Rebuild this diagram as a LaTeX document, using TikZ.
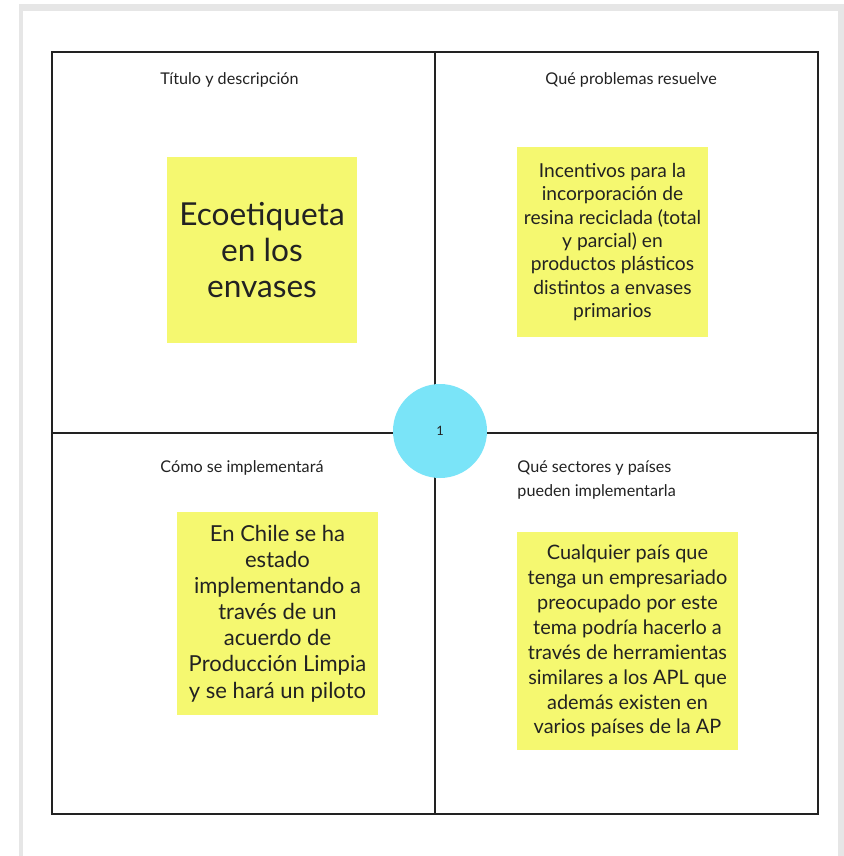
\documentclass[tikz,border=0pt]{standalone}
\usepackage{fontspec}
\setmainfont{Lato}
\usepackage{tikz}
\definecolor{sticky}{RGB}{245, 248, 112}
\definecolor{bubble}{RGB}{122, 228, 248}
\definecolor{frame}{RGB}{230, 230, 230}
\definecolor{ink}{RGB}{34, 34, 34}

\begin{document}
\begin{tikzpicture}[x=0.03cm, y=-0.03cm, thick,
    note/.style={fill=sticky, text=ink, inner sep=0pt, align=center},
    heading/.style={text=ink, inner sep=0pt, align=left, font=\fontsize{13.8}{20.4}\selectfont}]
  \useasboundingbox (0, 0) rectangle (844, 856);
  \fill [color=frame] (19, 4) rectangle (844, 856);
  \fill [color=white] (23, 11) rectangle (838, 856);

  \draw [line width=1.6pt, color=ink] (52, 52) rectangle (818, 814);
  \draw [line width=1.6pt, color=ink] (435, 52) -- (435, 814);
  \draw [line width=1.6pt, color=ink] (52, 433) -- (818, 433);

  \node[heading, anchor=west] (title) at (160, 80) { Título y descripción };
  \node[heading, anchor=west] (problems) at (545, 80) { Qué problemas resuelve };
  \node[heading, anchor=west] (how) at (160, 468) { Cómo se implementará };
  \node[heading, anchor=west] (who) at (517, 480) { Qué sectores y países\\pueden implementarla };

  \node[note, minimum width=5.7cm, minimum height=5.58cm,
        font=\fontsize{27}{31}\selectfont] (label) at (262, 250)
    { Ecoetiqueta\\en los\\envases };

  \node[note, minimum width=5.73cm, minimum height=5.7cm,
        font=\fontsize{16.4}{20}\selectfont] (incentives) at (612.5, 242)
    { Incentivos para la\\incorporación de\\resina reciclada (total\\y parcial) en\\productos plásticos\\distintos a envases\\primarios };

  \node[note, minimum width=6.03cm, minimum height=6.09cm,
        font=\fontsize{18.8}{22.3}\selectfont] (chile) at (277.5, 613.5)
    { En Chile se ha\\estado\\implementando a\\través de un\\acuerdo de\\Producción Limpia\\y se hará un piloto };

  \node[note, minimum width=6.63cm, minimum height=6.54cm,
        font=\fontsize{17}{21.3}\selectfont] (countries) at (627.5, 641)
    { Cualquier país que\\tenga un empresariado\\preocupado por este\\tema podría hacerlo a\\través de herramientas\\similares a los APL que\\además existen en\\varios países de la AP };

  \node[circle, fill=bubble, text=ink, minimum size=2.82cm,
        font=\fontsize{11}{12}\selectfont] (number) at (440, 431) { 1 };
\end{tikzpicture}
\end{document}
